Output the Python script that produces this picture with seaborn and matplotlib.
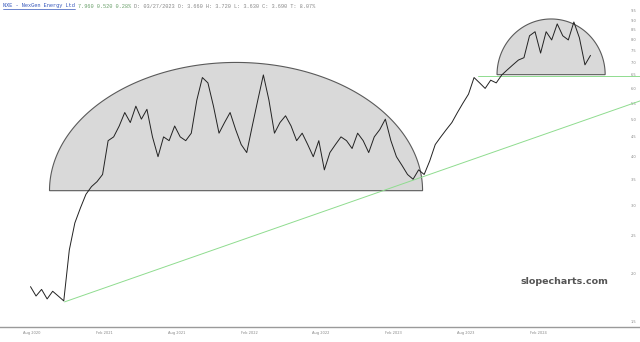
import numpy as np
import pandas as pd
import seaborn as sns
import matplotlib.pyplot as plt
import matplotlib.dates as mdates
from matplotlib.lines import Line2D

# NXE closes, one value every two weeks
start_date = "2020-07-29"
close = [1.85, 1.75, 1.82, 1.72, 1.80, 1.75, 1.70, 2.30, 2.70, 2.95,
         3.20, 3.35, 3.45, 3.60, 4.40, 4.50, 4.80, 5.20, 4.90, 5.40,
         5.00, 5.30, 4.50, 4.00, 4.50, 4.40, 4.80, 4.50, 4.40, 4.60,
         5.60, 6.40, 6.20, 5.40, 4.60, 4.90, 5.20, 4.70, 4.30, 4.10,
         4.80, 5.60, 6.50, 5.60, 4.60, 4.90, 5.10, 4.80, 4.40, 4.60,
         4.30, 4.00, 4.40, 3.70, 4.10, 4.30, 4.50, 4.40, 4.20, 4.60,
         4.40, 4.10, 4.50, 4.70, 5.00, 4.40, 4.00, 3.80, 3.60, 3.50,
         3.70, 3.60, 3.90, 4.30, 4.50, 4.70, 4.90, 5.20, 5.50, 5.80,
         6.40, 6.20, 6.00, 6.30, 6.20, 6.50, 6.70, 6.90, 7.10, 7.20,
         8.20, 8.40, 7.40, 8.40, 8.00, 8.80, 8.20, 8.00, 8.90, 8.10,
         6.90, 7.30]

# rounded tops drawn on the chart: start, end, base price, top price
dome_start = ["2020-09-15", "2023-10-20"]
dome_end = ["2023-04-15", "2024-07-19"]
dome_base = [3.27, 6.51]
dome_top = [7.0, 9.06]

# green lines
trend_dates = ["2020-10-23", "2024-10-15"]
trend_prices = [1.69, 5.57]
shelf_dates = ["2023-09-02", "2024-10-15"]
shelf_prices = [6.45, 6.45]

xticks = ["2020-08-01", "2021-02-01", "2021-08-01", "2022-02-01",
          "2022-08-01", "2023-02-01", "2023-08-01", "2024-02-01"]
yticks = [1.5, 2.0, 2.5, 3.0, 3.5, 4.0, 4.5, 5.0, 5.5, 6.0, 6.5,
          7.0, 7.5, 8.0, 8.5, 9.0, 9.5]

dates = pd.date_range(start_date, periods=len(close), freq="14D")
df = pd.DataFrame({"date": dates, "close": close})

sns.set_style("white")
fig = plt.figure(figsize=(6.4, 3.42), dpi=100)
ax = fig.add_axes([0, 15 / 342, 1, 327 / 342])

for s, e, b, t in zip(dome_start, dome_end, dome_base, dome_top):
    x0 = mdates.date2num(pd.Timestamp(s))
    x1 = mdates.date2num(pd.Timestamp(e))
    th = np.linspace(0, np.pi, 200)
    xs = (x0 + x1) / 2 + (x1 - x0) / 2 * np.cos(th)
    ys = np.exp(np.log(b) + (np.log(t) - np.log(b)) * np.sin(th))
    ax.fill(xs, ys, facecolor="#d9d9d9", edgecolor="#5a5a5a", lw=0.8, zorder=1)

ax.plot(pd.to_datetime(trend_dates), trend_prices, color="#8fdc8f", lw=0.7, zorder=2)
ax.plot(pd.to_datetime(shelf_dates), shelf_prices, color="#8fdc8f", lw=0.7, zorder=2)

sns.lineplot(data=df, x="date", y="close", color="#222222", lw=0.7, ax=ax, zorder=3)

ax.set_yscale("log")
ax.set_ylim(1.456, 10.14)
ax.set_xlim(pd.Timestamp("2020-05-13"), pd.Timestamp("2024-10-15"))
ax.set_yticks(yticks)
ax.set_yticklabels([f"{v:.1f}" for v in yticks])
ax.yaxis.set_minor_locator(plt.NullLocator())
ax.yaxis.tick_right()
ax.tick_params(axis="y", length=0, pad=-6.5, labelsize=2.6, labelcolor="#888888")
ax.set_xticks(pd.to_datetime(xticks))
ax.xaxis.set_major_formatter(mdates.DateFormatter("%b %Y"))
ax.tick_params(axis="x", length=0, pad=3, labelsize=2.6, labelcolor="#888888")
ax.set_xlabel("")
ax.set_ylabel("")
for side in ["top", "left", "right"]:
    ax.spines[side].set_visible(False)
ax.spines["bottom"].set_color("#9a9a9a")
ax.spines["bottom"].set_linewidth(1.0)

# header line
cw = 3.12 / 640
hy = 1 - 6 / 342
mono = ["Liberation Mono", "DejaVu Sans Mono"]
fig.text(3 / 640, hy, "NXE - NexGen Energy Ltd", family=mono, fontsize=3.75,
         color="#3355bb", va="center")
uy = hy - 3 / 342
fig.add_artist(Line2D([3 / 640, 3 / 640 + 23 * cw], [uy, uy], color="#3355bb",
                      lw=0.5, transform=fig.transFigure))
fig.text(3 / 640 + 24 * cw, hy, "7.960 0.520 0.28%", family=mono, fontsize=3.75,
         color="#6aa06a", va="center")
fig.text(3 / 640 + 42 * cw, hy, "D: 03/27/2023 O: 3.660 H: 3.720 L: 3.630 C: 3.690 T: 8.07%",
         family=mono, fontsize=3.75, color="#888888", va="center")

fig.text(608 / 640, 1 - 282 / 342, "slopecharts.com", fontsize=6.8, fontweight="bold",
         color="#555555", ha="right", va="center")

fig.savefig("out.png", dpi=100)
